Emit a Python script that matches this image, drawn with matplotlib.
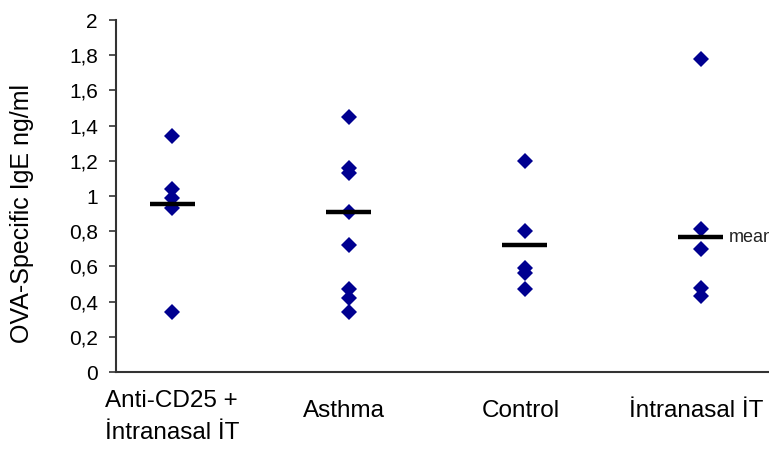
import matplotlib.pyplot as plt
from matplotlib.transforms import ScaledTranslation

plt.rcParams['font.family'] = ['Liberation Sans', 'DejaVu Sans']

groups = ['Anti-CD25 +\nİntranasal İT', 'Asthma', 'Control', 'İntranasal İT']
anti_cd25 = [1.34, 1.04, 0.99, 0.93, 0.34]
asthma = [1.45, 1.16, 1.13, 0.91, 0.72, 0.47, 0.42, 0.34]
control = [1.20, 0.80, 0.59, 0.56, 0.47]
intranasal = [1.78, 0.81, 0.70, 0.48, 0.43]
means = [0.955, 0.91, 0.72, 0.765]
yticks = [0, 0.2, 0.4, 0.6, 0.8, 1, 1.2, 1.4, 1.6, 1.8, 2]
ytick_labels = ['0', '0,2', '0,4', '0,6', '0,8', '1', '1,2', '1,4', '1,6', '1,8', '2']

values = [anti_cd25, asthma, control, intranasal]

fig = plt.figure(figsize=(7.69, 4.59), dpi=100)
ax = fig.add_axes([116/769, 1 - 372/459, (769 - 116)/769, (372 - 20)/459])

for i, vals in enumerate(values):
    ax.plot([i] * len(vals), vals, linestyle='none', marker='D', markersize=8.5,
            markeredgewidth=0, color='#000090', zorder=3)
    ax.hlines(means[i], i - 0.13, i + 0.13, color='black', linewidth=3.2,
              capstyle='butt', zorder=4)

ax.text(3 + 0.16, means[3], 'mean', fontsize=13, va='center', ha='left',
        color='#222222', clip_on=False)

ax.set_xlim(-0.321, 3.389)
ax.set_ylim(0, 2)
ax.set_yticks(yticks)
ax.set_yticklabels(ytick_labels, fontsize=15)
ax.set_xticks(range(len(groups)))
ax.set_xticklabels(groups, fontsize=17.5, linespacing=1.6, multialignment='left')
ax.tick_params(axis='x', length=0, pad=13)
ax.tick_params(axis='y', direction='out', length=5, width=1.2, color='#333333', pad=8)
ax.set_ylabel('OVA-Specific IgE ng/ml', fontsize=18)
ax.yaxis.set_label_coords(-0.125, 0.45)

for spine in ['top', 'right']:
    ax.spines[spine].set_visible(False)
for spine in ['left', 'bottom']:
    ax.spines[spine].set_color('#333333')
    ax.spines[spine].set_linewidth(1.5)

# single-line labels sit a little lower than the two-line one
for lab in ax.get_xticklabels()[1:]:
    lab.set_transform(lab.get_transform() + ScaledTranslation(-3/72, -7/72, fig.dpi_scale_trans))

fig.savefig('out.png', dpi=100)
